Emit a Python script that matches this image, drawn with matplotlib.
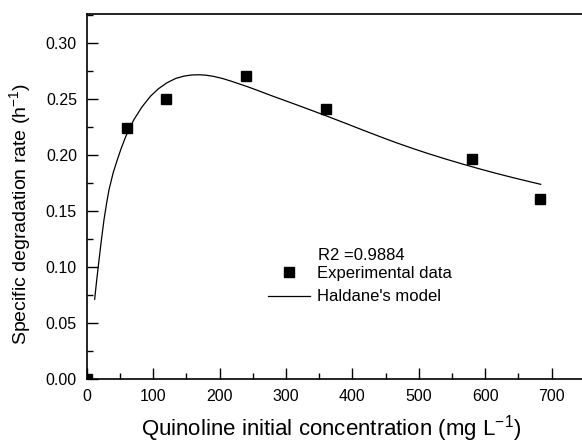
import matplotlib
matplotlib.use("Agg")
import matplotlib.pyplot as plt
from matplotlib.ticker import MultipleLocator

plt.rcParams['font.family'] = ['Liberation Sans', 'DejaVu Sans']
plt.rcParams['mathtext.fontset'] = 'custom'
plt.rcParams['mathtext.rm'] = 'Liberation Sans'
plt.rcParams['mathtext.it'] = 'Liberation Sans:italic'
plt.rcParams['mathtext.default'] = 'regular'

# Experimental data
exp_x = [0, 60, 120, 240, 360, 580, 683]
exp_y = [0.0, 0.224, 0.250, 0.2705, 0.241, 0.1965, 0.1605]

# Haldane's model curve
model_x = [12, 15, 18.5, 22, 26, 30, 33.6, 40, 46, 52, 58.7, 65, 71, 83, 96, 108, 121,
           134, 146.5, 158, 170, 180, 190.7, 203, 216, 228, 241, 253, 266, 278, 291,
           316, 341, 366, 391, 416, 441, 466, 491, 516, 541, 566, 591, 616, 641, 666, 683.7]
model_y = [0.0712, 0.088, 0.106, 0.1235, 0.142, 0.157, 0.169, 0.1844, 0.1955, 0.2060,
           0.2163, 0.2246, 0.2314, 0.2427, 0.2524, 0.2591, 0.2645, 0.2683, 0.2704, 0.2714,
           0.2716, 0.2712, 0.2702, 0.2685, 0.2662, 0.2638, 0.2612, 0.2586, 0.2557, 0.2530,
           0.2502, 0.2448, 0.2393, 0.2337, 0.2280, 0.2222, 0.2165, 0.2110, 0.2058, 0.2009,
           0.1963, 0.1919, 0.1877, 0.1837, 0.1799, 0.1763, 0.1738]

r2_text = "R2 =0.9884"
xlabel = "Quinoline initial concentration (mg L$^{-1}$)"
ylabel = "Specific degradation rate (h$^{-1}$)"

W, H = 582, 444
fig = plt.figure(figsize=(W / 100, H / 100), dpi=100)
left, right, bottom, top = 86.7, 86.7 + 750 * 0.664, 379, 14.5
ax = fig.add_axes([left / W, (H - bottom) / H, (right - left) / W, (bottom - top) / H])

ax.plot(exp_x, exp_y, linestyle='none', marker='s', markersize=6.5, color='black',
        label='Experimental data')
ax.plot(model_x, model_y, color='black', linewidth=0.9, label="Haldane's model")

ax.set_xlim(0, 750)
ax.set_ylim(0, 0.3254)
ax.xaxis.set_major_locator(MultipleLocator(100))
ax.xaxis.set_minor_locator(MultipleLocator(50))
ax.yaxis.set_major_locator(MultipleLocator(0.05))
ax.yaxis.set_minor_locator(MultipleLocator(0.025))
ax.yaxis.set_major_formatter(plt.FormatStrFormatter('%.2f'))
ax.tick_params(which='both', direction='in', top=False, right=False, labelsize=11.5, width=1)
ax.tick_params(which='major', length=8, pad=7)
ax.tick_params(which='minor', length=4.5)
for s in ax.spines.values():
    s.set_linewidth(1.2)

ax.set_xlabel(xlabel, fontsize=16)
ax.set_ylabel(ylabel, fontsize=14)
ax.xaxis.set_label_coords((331 - left) / (right - left), (bottom - 413) / (bottom - top))
ax.yaxis.set_label_coords((33 - left) / (right - left), (bottom - 214) / (bottom - top))

fig.text(318 / W, 1 - 255 / H, r2_text, fontsize=12, va='center', ha='left')
leg = ax.legend(loc='upper left', bbox_to_anchor=(268 / W, 1 - 266 / H),
                bbox_transform=fig.transFigure, frameon=False, fontsize=12,
                handlelength=2.5, handletextpad=0.45, labelspacing=0.5,
                borderaxespad=0, borderpad=0)

fig.savefig('out.png', dpi=100)
